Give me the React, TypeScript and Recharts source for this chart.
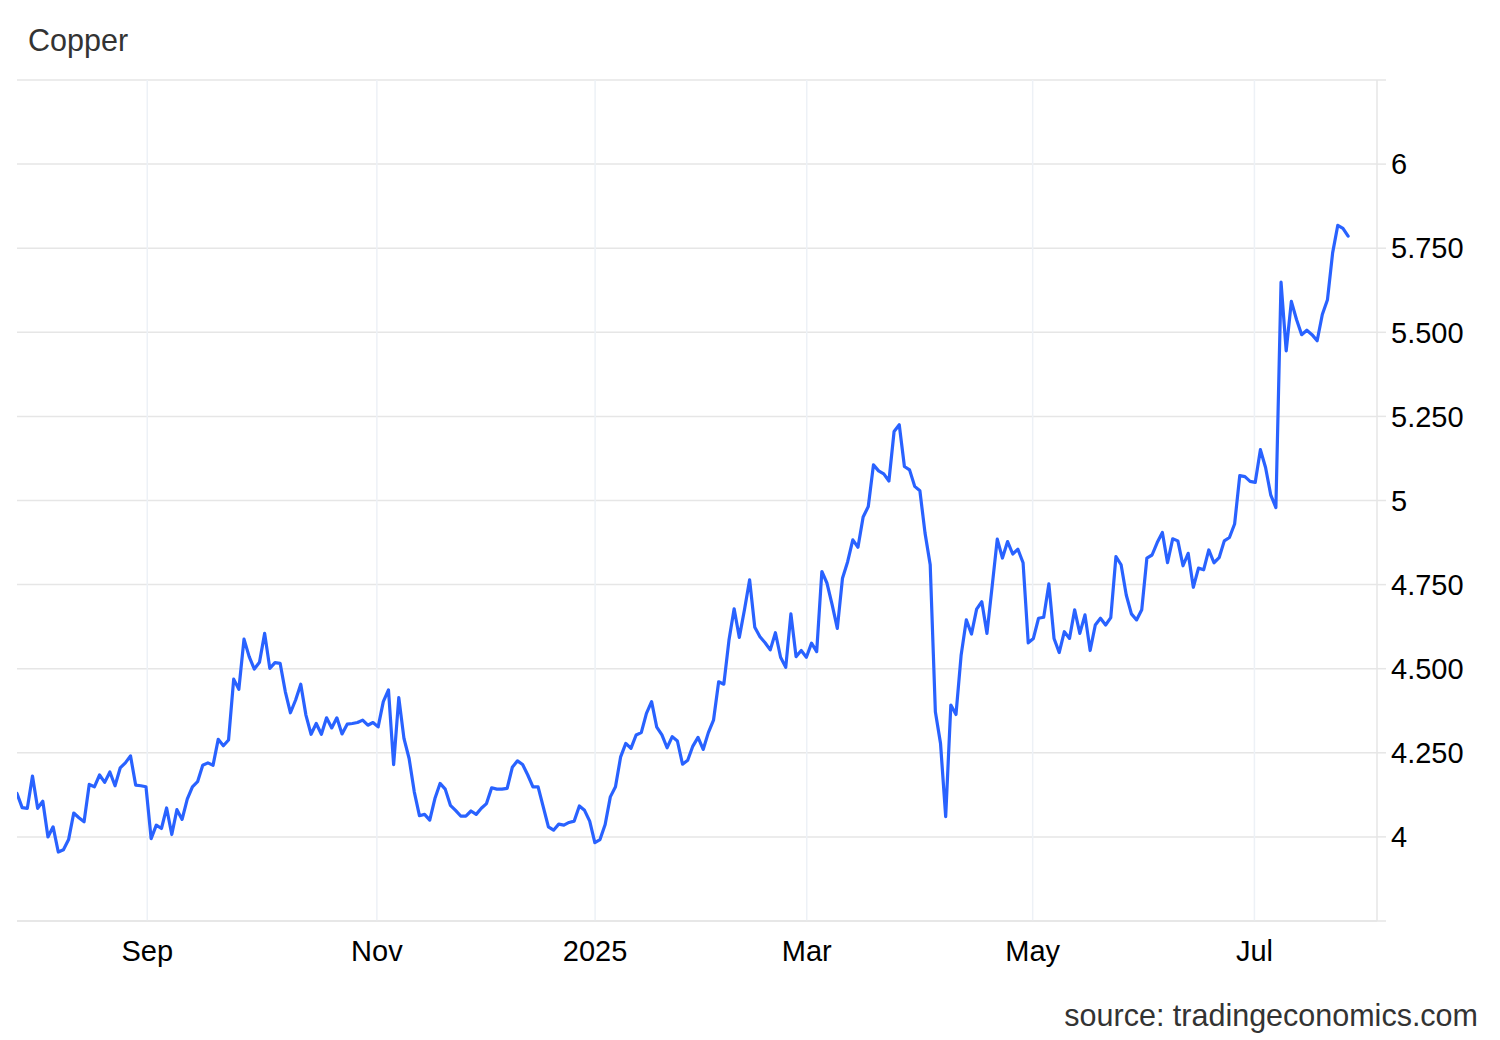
import React from 'react';
import { LineChart, Line, XAxis, YAxis, CartesianGrid, ReferenceLine } from 'recharts';

// Copper price, one value per trading day (Aug 2024 – Jul 2025)
const copperValues: number[] = [
  4.129, 4.087, 4.085, 4.181, 4.085, 4.106, 4.0, 4.03, 3.955, 3.962, 3.992, 4.071, 4.057, 4.045, 4.156, 4.149, 4.184,
  4.162, 4.193, 4.152, 4.205, 4.22, 4.241, 4.154, 4.152, 4.149, 3.995, 4.035, 4.025, 4.086, 4.007, 4.081, 4.052, 4.112,
  4.149, 4.164, 4.213, 4.22, 4.213, 4.29, 4.271, 4.288, 4.469, 4.439, 4.588, 4.536, 4.499, 4.519, 4.605, 4.501, 4.518,
  4.516, 4.432, 4.369, 4.407, 4.454, 4.362, 4.305, 4.337, 4.305, 4.354, 4.324, 4.354, 4.306, 4.335,
  4.337, 4.34, 4.347, 4.332, 4.34, 4.327, 4.402, 4.437, 4.215, 4.414, 4.293, 4.233, 4.134, 4.063, 4.067, 4.05, 4.114,
  4.159, 4.142, 4.094, 4.079, 4.062, 4.062, 4.077, 4.067, 4.085, 4.099, 4.146, 4.142, 4.142, 4.144, 4.207, 4.226, 4.215,
  4.184,
  4.149, 4.149, 4.089, 4.03, 4.02, 4.038, 4.035, 4.043, 4.047, 4.092, 4.079, 4.047, 3.983, 3.992, 4.037, 4.119, 4.149,
  4.238, 4.278, 4.263, 4.303, 4.31, 4.367, 4.402, 4.326, 4.303, 4.265, 4.298, 4.285, 4.216, 4.228, 4.27, 4.296, 4.26,
  4.31,
  4.347, 4.461, 4.454, 4.585, 4.678, 4.593, 4.675, 4.764, 4.623, 4.595, 4.577, 4.556, 4.607, 4.534, 4.504, 4.663, 4.536,
  4.554, 4.534, 4.576, 4.551, 4.789, 4.754, 4.69, 4.62, 4.769, 4.818, 4.883, 4.861,
  4.951, 4.982, 5.106, 5.088, 5.079, 5.058, 5.205, 5.225, 5.101, 5.091, 5.042, 5.029, 4.903, 4.809, 4.372, 4.278, 4.06,
  4.392, 4.364, 4.541, 4.645, 4.603, 4.677, 4.699, 4.605, 4.744, 4.885, 4.829, 4.878, 4.841, 4.855, 4.815, 4.577, 4.59,
  4.65,
  4.653, 4.752, 4.59, 4.548, 4.61, 4.59, 4.675, 4.605, 4.66, 4.554, 4.63, 4.65, 4.63, 4.652, 4.833, 4.809, 4.719, 4.663,
  4.645, 4.675, 4.829, 4.838, 4.875, 4.905, 4.815, 4.886, 4.88, 4.806, 4.843, 4.742, 4.799, 4.794, 4.853, 4.815, 4.83,
  4.88, 4.89, 4.93,
  5.074, 5.071, 5.057, 5.054, 5.151, 5.098, 5.017, 4.979, 5.649, 5.445, 5.592, 5.538, 5.493, 5.506, 5.493, 5.475, 5.553,
  5.597, 5.736, 5.818, 5.809, 5.786,
];

// Month boundaries expressed in trading-day positions
const monthTickPositions: number[] = [25.25, 69.75, 112.05, 153.07, 196.86, 239.84];
const monthTickLabels: string[] = ['Sep', 'Nov', '2025', 'Mar', 'May', 'Jul'];

const yTicks: number[] = [3.75, 4, 4.25, 4.5, 4.75, 5, 5.25, 5.5, 5.75, 6, 6.25];
const yTickLabels: string[] = ['', '4', '4.250', '4.500', '4.750', '5', '5.250', '5.500', '5.750', '6', ''];

const xDomainEnd = 263.6;

const chartData = copperValues.map((v, i) => ({ i, v }));

const FONT = '"Liberation Sans", Arial, Helvetica, sans-serif';

export default function App() {
  return (
    <div
      style={{
        position: 'absolute',
        left: 0,
        top: 0,
        width: 1500,
        height: 1040,
        background: '#ffffff',
        fontFamily: FONT,
      }}
    >
      <LineChart
        width={1500}
        height={1040}
        data={chartData}
        margin={{ top: 80, right: 0, bottom: 0, left: 17 }}
      >
        <CartesianGrid horizontal={true} vertical={false} stroke="#e6e6e6" strokeWidth={1.5} />
        {monthTickPositions.map((p) => (
          <ReferenceLine key={p} x={p} stroke="#edf1f6" strokeWidth={1.5} ifOverflow="hidden" />
        ))}
        <XAxis
          dataKey="i"
          type="number"
          domain={[0, xDomainEnd]}
          ticks={monthTickPositions}
          tickFormatter={(t: number) => {
            const k = monthTickPositions.indexOf(t);
            return k >= 0 ? monthTickLabels[k] : '';
          }}
          axisLine={{ stroke: '#e6e6e6', strokeWidth: 1.5 }}
          tickLine={false}
          tickSize={0}
          tickMargin={19}
          height={119}
          interval={0}
          allowDataOverflow={true}
          tick={{ fill: '#000000', fontSize: 29, fontFamily: FONT }}
        />
        <YAxis
          orientation="right"
          type="number"
          domain={[3.75, 6.25]}
          ticks={yTicks}
          interval={0}
          tickFormatter={(t: number) => {
            const k = yTicks.indexOf(t);
            return k >= 0 ? yTickLabels[k] : '';
          }}
          axisLine={{ stroke: '#e6e6e6', strokeWidth: 1.5 }}
          tickLine={{ stroke: '#e6e6e6', strokeWidth: 1.5 }}
          tickSize={9}
          tickMargin={5}
          width={123}
          allowDataOverflow={true}
          tick={{ fill: '#000000', fontSize: 29, fontFamily: FONT, textAnchor: 'start' }}
        />
        <Line
          type="linear"
          dataKey="v"
          stroke="#2962ff"
          strokeWidth={3.2}
          strokeLinejoin="round"
          strokeLinecap="round"
          dot={false}
          activeDot={false}
          isAnimationActive={false}
        />
      </LineChart>
      <svg
        width={1500}
        height={1040}
        style={{ position: 'absolute', left: 0, top: 0, pointerEvents: 'none' }}
      >
        <text x={28} y={50.5} fontSize={30.5} fill="#333333" fontFamily={FONT}>
          Copper
        </text>
        <text x={1478} y={1026} fontSize={30.5} fill="#333333" fontFamily={FONT} textAnchor="end">
          source: tradingeconomics.com
        </text>
      </svg>
    </div>
  );
}
